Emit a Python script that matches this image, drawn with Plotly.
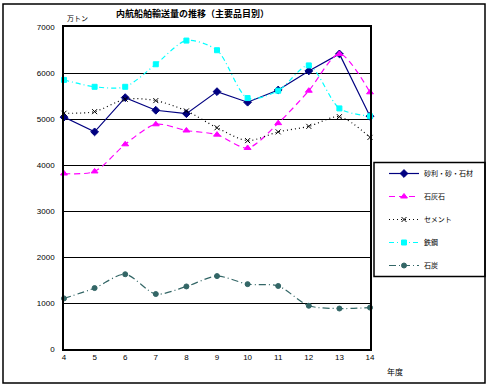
import plotly.graph_objects as go

years = [4, 5, 6, 7, 8, 9, 10, 11, 12, 13, 14]
x_tick_labels = [str(y) for y in years]
y_ticks = [0, 1000, 2000, 3000, 4000, 5000, 6000, 7000]

jari = [5040, 4720, 5465, 5190, 5115, 5595, 5365, 5630, 6045, 6415, 5060]
sekkaiseki = [3815, 3860, 4450, 4885, 4750, 4660, 4370, 4910, 5615, 6415, 5580]
cement = [5125, 5160, 5430, 5400, 5175, 4810, 4530, 4720, 4840, 5050, 4600]
tekko = [5850, 5700, 5700, 6190, 6705, 6495, 5455, 5615, 6165, 5230, 5060]
sekitan = [1100, 1325, 1625, 1195, 1360, 1585, 1410, 1370, 940, 880, 900]

names = ["砂利・砂・石材", "石灰石", "セメント", "鉄鋼", "石炭"]

JP = "Noto Sans CJK JP"
NUM = "Liberation Sans"

fig = go.Figure()

specs = [
    (jari, names[0], "#000080", "solid", "diamond", 6, "linear"),
    (sekkaiseki, names[1], "#FF00FF", "6px,4px", "triangle-up", 6, "spline"),
    (cement, names[2], "#000000", "1px,3px", "x-thin-open", 5, "spline"),
    (tekko, names[3], "#00FFFF", "5px,3px,1px,3px", "square", 5, "spline"),
    (sekitan, names[4], "#336666", "7px,3px,1px,3px", "circle", 5, "spline"),
]

for i, (vals, nm, col, dash, sym, ms, shape) in enumerate(specs):
    fig.add_trace(go.Scatter(
        x=years, y=vals, name=nm, mode="lines+markers",
        line=dict(color=col, width=1.2, dash=dash, shape=shape, smoothing=0.8),
        marker=dict(symbol=sym, size=ms, color=col, line=dict(color=col, width=1)),
        cliponaxis=False, legendgroup="g%d" % i,
    ))

fig.update_layout(
    width=490, height=387,
    margin=dict(l=64, r=120, t=27, b=38, autoexpand=False),
    paper_bgcolor="white", plot_bgcolor="white",
    showlegend=True,
    legend=dict(
        xref="container", yref="container",
        x=384 / 490, y=1 - 159 / 387, xanchor="left", yanchor="top",
        bgcolor="rgba(0,0,0,0)", borderwidth=0,
        font=dict(family=JP, size=7, color="black"),
        traceorder="grouped", tracegroupgap=4,
        itemwidth=30,
    ),
    xaxis=dict(
        range=[4, 14], tickvals=years, ticktext=x_tick_labels,
        showgrid=False, zeroline=False,
        showline=True, linecolor="black", linewidth=1.5, mirror=True,
        ticks="", ticklen=0,
        tickfont=dict(family=NUM, size=8, color="black"),
    ),
    yaxis=dict(
        range=[0, 7000], tickvals=y_ticks,
        showgrid=True, gridcolor="black", gridwidth=1.3,
        zeroline=False,
        showline=True, linecolor="black", linewidth=1.5, mirror=True,
        ticks="", tickfont=dict(family=NUM, size=8, color="black"),
        ticklabelstandoff=6,
    ),
    shapes=[
        dict(type="rect", xref="paper", yref="paper", x0=-61 / 306, x1=421 / 306,
             y0=-34 / 322, y1=345 / 322, line=dict(color="black", width=1.5),
             fillcolor="rgba(0,0,0,0)", layer="above"),
        dict(type="rect", xref="paper", yref="paper", x0=310 / 306, x1=421 / 306,
             y0=(348.5 - 276) / 322, y1=(348.5 - 162) / 322, line=dict(color="black", width=1.5),
             fillcolor="rgba(0,0,0,0)", layer="above"),
    ],
    annotations=[
        dict(text="<b>内航船舶輸送量の推移（主要品目別）</b>", xref="paper", yref="paper",
             x=(192 - 64) / 306, y=(348.5 - 13) / 322, showarrow=False,
             font=dict(family=JP, size=9, color="black"), xanchor="center", yanchor="middle"),
        dict(text="万トン", xref="paper", yref="paper",
             x=(65 - 64) / 306, y=(348.5 - 17) / 322, showarrow=False,
             font=dict(family=JP, size=7, color="black"), xanchor="left", yanchor="middle"),
        dict(text="年度", xref="paper", yref="paper",
             x=(395 - 64) / 306, y=(348.5 - 371) / 322, showarrow=False,
             font=dict(family=JP, size=8, color="black"), xanchor="center", yanchor="middle"),
    ],
)

fig.write_html("out.html", config={"displayModeBar": False},
               post_script="document.body.style.margin='0';document.body.style.overflow='hidden';")
